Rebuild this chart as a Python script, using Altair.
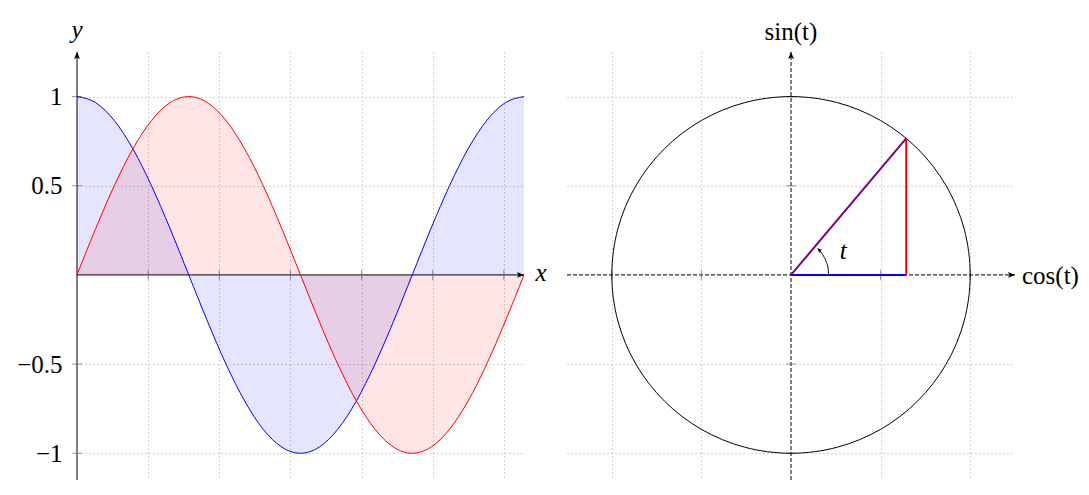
import altair as alt
import pandas as pd

# ---------------- data ----------------
# left panel: samples of the two curves (every pi/12)
X = [0.0, 0.2618, 0.5236, 0.7854, 1.0472, 1.3090, 1.5708, 1.8326, 2.0944,
     2.3562, 2.6180, 2.8798, 3.1416, 3.4034, 3.6652, 3.9270, 4.1888, 4.4506,
     4.7124, 4.9742, 5.2360, 5.4978, 5.7596, 6.0214, 6.2832]
SIN = [0.0, 0.259, 0.5, 0.707, 0.866, 0.966, 1.0, 0.966, 0.866, 0.707, 0.5, 0.259,
       0.0, -0.259, -0.5, -0.707, -0.866, -0.966, -1.0, -0.966, -0.866, -0.707,
       -0.5, -0.259, 0.0]
COS = [1.0, 0.966, 0.866, 0.707, 0.5, 0.259, 0.0, -0.259, -0.5, -0.707, -0.866,
       -0.966, -1.0, -0.966, -0.866, -0.707, -0.5, -0.259, 0.0, 0.259, 0.5, 0.707,
       0.866, 0.966, 1.0]
LEFT_XTICKS = [1, 2, 3, 4, 5, 6]
LEFT_YTICKS = [-1, -0.5, 0.5, 1]
X_MAX = 6.2832
Y_MIN, Y_MAX = -1.15, 1.25

# right panel: unit circle points (every 15 degrees), angle t of about 50 degrees
CIRCLE_X = COS[:-1]
CIRCLE_Y = SIN[:-1]
RIGHT_TICKS = [-1, -0.5, 0.5, 1]
R_MIN, R_MAX = -1.25, 1.25
COS_T, SIN_T = 0.643, 0.766
ARC_X = [0.21, 0.207, 0.197, 0.182, 0.161]
ARC_Y = [0.0, 0.036, 0.072, 0.105, 0.135]
ARC_TIP_X, ARC_TIP_Y = 0.146, 0.151

FONT = "Liberation Serif, Times New Roman, DejaVu Serif, serif"
FS = 25
ARROW = "M0,0 L0.42,1 L0,0.78 L-0.42,1 Z"  # points up, tip at origin
TICK_COLOR = "#666666"

# ---------------- left panel ----------------
xl = alt.X("x:Q", scale=alt.Scale(domain=[0, X_MAX], nice=False, zero=False),
           axis=alt.Axis(values=LEFT_XTICKS, grid=True, labels=False, ticks=False,
                         domain=False, title=None))
yl = alt.Y("y:Q", scale=alt.Scale(domain=[Y_MIN, Y_MAX], nice=False, zero=False),
           axis=alt.Axis(values=LEFT_YTICKS, grid=True, labels=True, ticks=False,
                         domain=False, title=None, format=".1~f", labelPadding=15))

sin_df = pd.DataFrame({"x": X, "y": SIN})
cos_df = pd.DataFrame({"x": X, "y": COS})

cos_area = alt.Chart(cos_df).mark_area(color="blue", opacity=0.1, interpolate="monotone").encode(
    x=xl, y=yl, y2=alt.datum(0))
sin_area = alt.Chart(sin_df).mark_area(color="red", opacity=0.1, interpolate="monotone").encode(
    x=xl, y=yl, y2=alt.datum(0))

l_xaxis = alt.Chart(pd.DataFrame({"x": [0.0], "x2": [X_MAX], "y": [0.0]})).mark_rule(
    color="black", strokeWidth=1).encode(x=xl, x2="x2:Q", y=yl)
l_yaxis = alt.Chart(pd.DataFrame({"x": [0.0], "y": [Y_MIN], "y2": [Y_MAX]})).mark_rule(
    color="black", strokeWidth=1).encode(x=xl, y=yl, y2="y2:Q")
l_xticks = alt.Chart(pd.DataFrame({"x": LEFT_XTICKS, "y": [0.0] * len(LEFT_XTICKS)})).mark_tick(
    orient="vertical", size=10, thickness=1, color=TICK_COLOR).encode(x=xl, y=yl)
l_yticks = alt.Chart(pd.DataFrame({"x": [0.0] * len(LEFT_YTICKS), "y": LEFT_YTICKS})).mark_tick(
    orient="horizontal", size=10, thickness=1, color=TICK_COLOR).encode(x=xl, y=yl)

cos_line = alt.Chart(cos_df).mark_line(color="blue", strokeWidth=1, interpolate="monotone").encode(x=xl, y=yl)
sin_line = alt.Chart(sin_df).mark_line(color="red", strokeWidth=1, interpolate="monotone").encode(x=xl, y=yl)

l_arrows = alt.Chart(pd.DataFrame({"x": [X_MAX, 0.0], "y": [0.0, Y_MAX], "a": [90, 0]})).mark_point(
    shape=ARROW, filled=True, size=196, color="black", opacity=1).encode(
    x=xl, y=yl, angle=alt.Angle("a:Q", scale=None))

l_xlabel = alt.Chart(pd.DataFrame({"x": [X_MAX], "y": [0.0], "t": ["x"]})).mark_text(
    dx=17, dy=-2, fontStyle="italic", fontSize=FS, font=FONT, align="center", color="black").encode(
    x=xl, y=yl, text="t:N")
l_ylabel = alt.Chart(pd.DataFrame({"x": [0.0], "y": [Y_MAX], "t": ["y"]})).mark_text(
    dy=-22, fontStyle="italic", fontSize=FS, font=FONT, align="center", color="black").encode(
    x=xl, y=yl, text="t:N")

left = alt.layer(cos_area, sin_area, l_xaxis, l_yaxis, l_xticks, l_yticks,
                 cos_line, sin_line, l_arrows, l_xlabel, l_ylabel).properties(width=447, height=428)

# ---------------- right panel ----------------
xr = alt.X("x:Q", scale=alt.Scale(domain=[R_MIN, R_MAX], nice=False, zero=False),
           axis=alt.Axis(values=RIGHT_TICKS, grid=True, labels=False, ticks=False,
                         domain=False, title=None))
yr = alt.Y("y:Q", scale=alt.Scale(domain=[Y_MIN, Y_MAX], nice=False, zero=False),
           axis=alt.Axis(values=RIGHT_TICKS, grid=True, labels=False, ticks=False,
                         domain=False, title=None))

r_xaxis = alt.Chart(pd.DataFrame({"x": [R_MIN], "x2": [R_MAX], "y": [0.0]})).mark_rule(
    color="black", strokeWidth=1, strokeDash=[4, 2]).encode(x=xr, x2="x2:Q", y=yr)
r_yaxis = alt.Chart(pd.DataFrame({"x": [0.0], "y": [Y_MIN], "y2": [Y_MAX]})).mark_rule(
    color="black", strokeWidth=1, strokeDash=[4, 2]).encode(x=xr, y=yr, y2="y2:Q")
r_xticks = alt.Chart(pd.DataFrame({"x": RIGHT_TICKS, "y": [0.0] * 4})).mark_tick(
    orient="vertical", size=10, thickness=1, color=TICK_COLOR).encode(x=xr, y=yr)
r_yticks = alt.Chart(pd.DataFrame({"x": [0.0] * 4, "y": RIGHT_TICKS})).mark_tick(
    orient="horizontal", size=10, thickness=1, color=TICK_COLOR).encode(x=xr, y=yr)

circle = alt.Chart(pd.DataFrame({"x": CIRCLE_X, "y": CIRCLE_Y, "i": list(range(len(CIRCLE_X)))})).mark_line(
    color="black", strokeWidth=1, interpolate="cardinal-closed", tension=0).encode(
    x=xr, y=yr, order="i:Q")

blue_seg = alt.Chart(pd.DataFrame({"x": [0.0], "x2": [COS_T], "y": [0.0]})).mark_rule(
    color="blue", strokeWidth=2).encode(x=xr, x2="x2:Q", y=yr)
red_seg = alt.Chart(pd.DataFrame({"x": [COS_T], "y": [0.0], "y2": [SIN_T]})).mark_rule(
    color="red", strokeWidth=2).encode(x=xr, y=yr, y2="y2:Q")
purple_seg = alt.Chart(pd.DataFrame({"x": [0.0], "y": [0.0], "x2": [COS_T], "y2": [SIN_T]})).mark_rule(
    color="purple", strokeWidth=2).encode(x=xr, y=yr, x2="x2:Q", y2="y2:Q")

arc = alt.Chart(pd.DataFrame({"x": ARC_X, "y": ARC_Y, "i": list(range(len(ARC_X)))})).mark_line(
    color="black", strokeWidth=1, interpolate="monotone").encode(x=xr, y=yr, order="i:Q")
arc_arrow = alt.Chart(pd.DataFrame({"x": [ARC_TIP_X], "y": [ARC_TIP_Y], "a": [313]})).mark_point(
    shape=ARROW, filled=True, size=110, color="black", opacity=1).encode(
    x=xr, y=yr, angle=alt.Angle("a:Q", scale=None))
t_label = alt.Chart(pd.DataFrame({"x": [ARC_TIP_X], "y": [ARC_TIP_Y], "t": ["t"]})).mark_text(
    dx=26, dy=3, fontStyle="italic", fontSize=FS, font=FONT, align="center", color="black").encode(
    x=xr, y=yr, text="t:N")

r_arrows = alt.Chart(pd.DataFrame({"x": [R_MAX, 0.0], "y": [0.0, Y_MAX], "a": [90, 0]})).mark_point(
    shape=ARROW, filled=True, size=196, color="black", opacity=1).encode(
    x=xr, y=yr, angle=alt.Angle("a:Q", scale=None))
cos_label = alt.Chart(pd.DataFrame({"x": [R_MAX], "y": [0.0], "t": ["cos(t)"]})).mark_text(
    dx=7, dy=1, fontSize=FS, font=FONT, align="left", color="black").encode(x=xr, y=yr, text="t:N")
sin_label = alt.Chart(pd.DataFrame({"x": [0.0], "y": [Y_MAX], "t": ["sin(t)"]})).mark_text(
    dy=-20, fontSize=FS, font=FONT, align="center", color="black").encode(x=xr, y=yr, text="t:N")

right = alt.layer(r_xaxis, r_yaxis, r_xticks, r_yticks, circle, blue_seg, red_seg, purple_seg,
                  arc, arc_arrow, t_label, r_arrows, cos_label, sin_label).properties(width=448, height=428)

chart = alt.hconcat(left, right, spacing=43, bounds="flush").properties(
    padding={"left": 8, "top": 10, "right": 0, "bottom": 0}
).configure(font=FONT).configure_axis(
    gridColor="#a8a8a8", gridDash=[1, 3], gridWidth=1, labelFont=FONT, labelFontSize=FS,
    labelColor="black"
).configure_view(stroke=None)

chart.save("out.html", embed_options={"renderer": "svg", "actions": False})
